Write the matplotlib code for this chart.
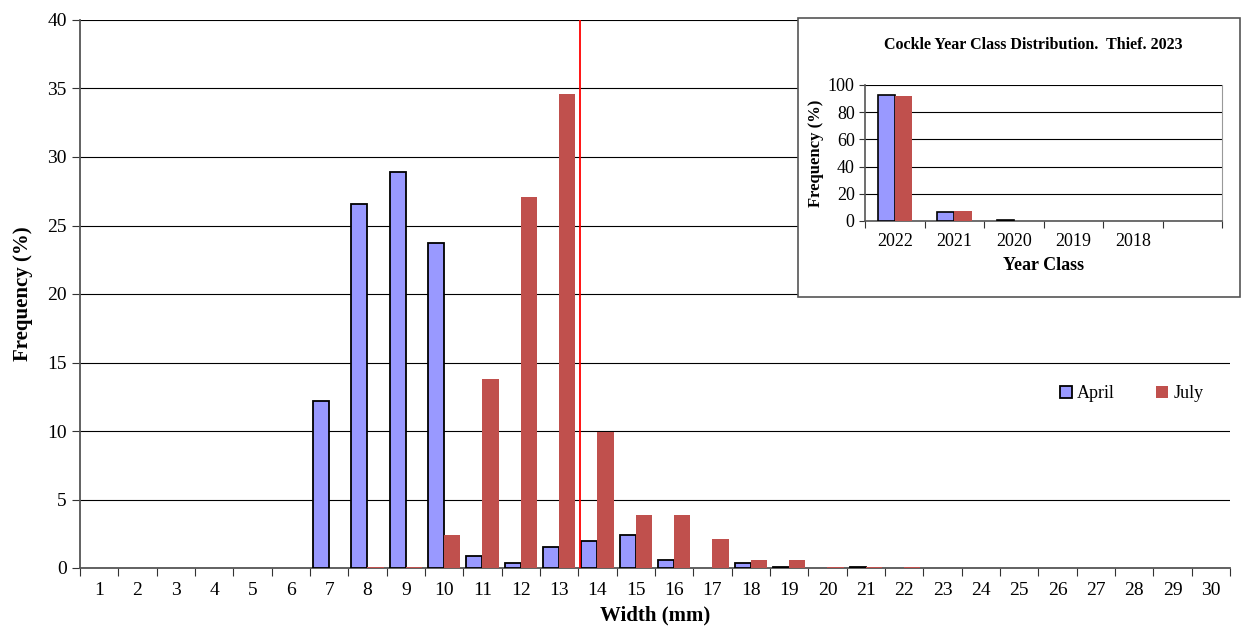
import matplotlib.pyplot as plt
import numpy as np
from matplotlib.patches import Rectangle, Patch

plt.rcParams['font.family'] = ['Liberation Serif', 'DejaVu Serif']

# Main width-frequency data
widths = list(range(1, 31))
april = [0, 0, 0, 0, 0, 0, 12.2, 26.6, 28.9, 23.7, 0.85, 0.4, 1.5, 2.0, 2.4,
         0.6, 0, 0.4, 0.1, 0, 0.1, 0, 0, 0, 0, 0, 0, 0, 0, 0]
july = [0, 0, 0, 0, 0, 0, 0, 0.1, 0.1, 2.4, 13.8, 27.1, 34.6, 9.9, 3.85,
        3.85, 2.1, 0.6, 0.6, 0.1, 0.1, 0.1, 0, 0, 0, 0, 0, 0, 0, 0]
cutoff = 13.55

# Inset year class data
years = ['2022', '2021', '2020', '2019', '2018', '']
april_yc = [93, 6.5, 0.6, 0, 0, 0]
july_yc = [92, 7.5, 0, 0, 0, 0]

april_col = '#9999FF'
july_col = '#C0504D'

fig = plt.figure(figsize=(12.42, 6.4), dpi=100)
ax = fig.add_axes([0.0644, 0.1125, 0.9259, 0.85625])

x = np.array(widths)
bw = 0.42
ax.bar(x - bw / 2, april, bw, color=april_col, edgecolor='black',
       linewidth=[1.3 if v > 0 else 0 for v in april], zorder=3)
ax.bar(x + bw / 2, july, bw, color=july_col, linewidth=0, zorder=3)
ax.axvline(cutoff, color='#FF0000', linewidth=1.3, zorder=4)

ax.set_xlim(0.5, 30.5)
ax.set_ylim(0, 40)
ax.set_yticks(range(0, 41, 5))
ax.yaxis.grid(True, color='black', linewidth=0.8)
ax.set_axisbelow(True)
ax.set_xticks(np.arange(0.5, 31, 1))
ax.set_xticklabels([])
ax.set_xticks(x, minor=True)
ax.set_xticklabels([str(w) for w in widths], minor=True)
ax.tick_params(axis='x', which='major', length=6, direction='out', color='#333333')
ax.tick_params(axis='x', which='minor', length=0, labelsize=14, pad=10)
ax.tick_params(axis='y', length=6, labelsize=14, color='#333333')
for s in ['top', 'right']:
    ax.spines[s].set_visible(False)
for s in ['left', 'bottom']:
    ax.spines[s].set_color('#555555')
    ax.spines[s].set_linewidth(1.3)
ax.set_xlabel('Width (mm)', fontsize=15, fontweight='bold', labelpad=5)
ax.set_ylabel('Frequency (%)', fontsize=15, fontweight='bold', labelpad=10)

handles = [Patch(facecolor=april_col, edgecolor='black', linewidth=1.3, label='April'),
           Patch(facecolor=july_col, linewidth=0, label='July')]
ax.legend(handles=handles, loc='center left', bbox_to_anchor=(0.838, 0.318), ncol=2,
          frameon=False, fontsize=13, handlelength=0.65, handleheight=0.65,
          handletextpad=0.3, columnspacing=2.3)

# Inset box
fig.patches.append(Rectangle((0.6425, 0.536), 0.3559, 0.436, transform=fig.transFigure,
                             facecolor='white', edgecolor='#555555', linewidth=1.2,
                             zorder=5))
ins = fig.add_axes([0.6965, 0.6547, 0.2874, 0.2125], zorder=6)
xi = np.arange(len(years))
ib = 0.29
ins.bar(xi - ib / 2, april_yc, ib, color=april_col, edgecolor='black',
        linewidth=[1.2 if v > 0 else 0 for v in april_yc], zorder=3)
ins.bar(xi + ib / 2, july_yc, ib, color=july_col, linewidth=0, zorder=3)
ins.set_xlim(-0.5, len(years) - 0.5)
ins.set_ylim(0, 100)
ins.set_yticks(range(0, 101, 20))
ins.yaxis.grid(True, color='black', linewidth=0.8)
ins.set_axisbelow(True)
ins.set_xticks(np.arange(-0.5, len(years), 1))
ins.set_xticklabels([])
ins.set_xticks(xi, minor=True)
ins.set_xticklabels(years, minor=True)
ins.tick_params(axis='x', which='major', length=5, color='#333333')
ins.tick_params(axis='x', which='minor', length=0, labelsize=13, pad=9)
ins.tick_params(axis='y', length=4, labelsize=13, color='#333333')
ins.spines['top'].set_visible(False)
ins.spines['right'].set_color('#999999')
for s in ['left', 'bottom']:
    ins.spines[s].set_color('#555555')
    ins.spines[s].set_linewidth(1.2)
ins.set_xlabel('Year Class', fontsize=13, fontweight='bold', labelpad=5)
ins.set_ylabel('Frequency (%)', fontsize=12, fontweight='bold', labelpad=3)
fig.text(0.832, 0.93, 'Cockle Year Class Distribution.  Thief. 2023', ha='center',
         va='center', fontsize=11.5, fontweight='bold', zorder=7)

fig.savefig('out.png', dpi=100)
